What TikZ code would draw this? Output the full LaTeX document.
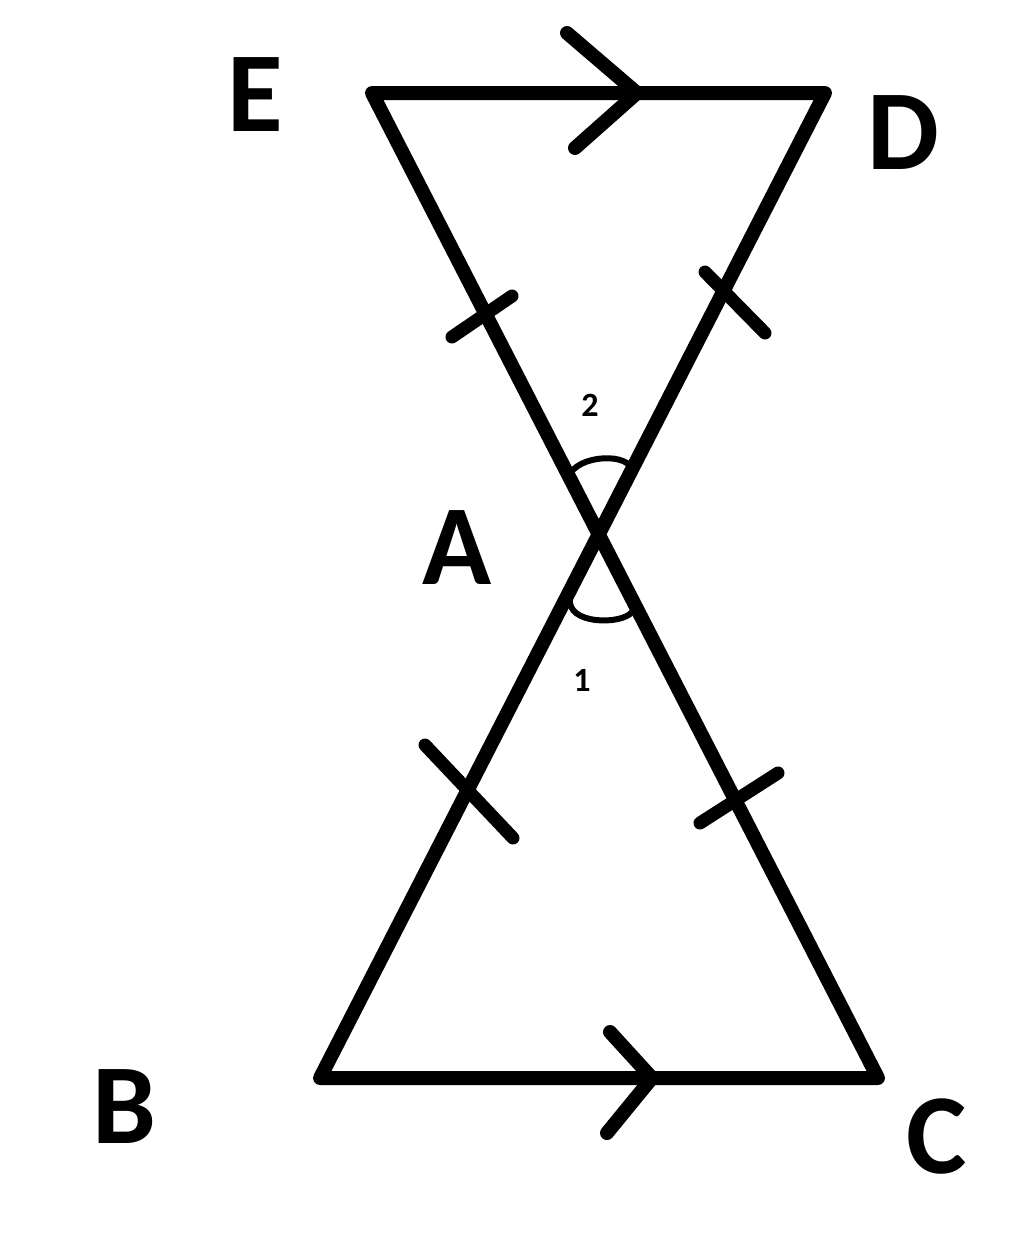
\documentclass[tikz,border=0pt]{standalone}
\usepackage{fontspec}
\setmainfont{Carlito}
\begin{document}
\begin{tikzpicture}[x=1pt,y=-1pt,
  seg/.style={line width=14pt,line cap=round,line join=round},
  tick/.style={line width=13pt,line cap=round},
  arc/.style={line width=6pt},
  vlabel/.style={inner sep=0pt,font=\fontsize{114}{114}\selectfont\bfseries},
  nlabel/.style={inner sep=0pt,font=\fontsize{34}{34}\selectfont\bfseries}]
\useasboundingbox (0,0) rectangle (1024,1239);
\coordinate (E) at (372,93);
\coordinate (D) at (825,93);
\coordinate (B) at (320,1078);
\coordinate (C) at (878,1078);
\coordinate (A) at (599,534);
% sides
\draw[seg] (B) -- (C) -- (E) -- (D) -- cycle;
% parallel chevrons
\draw[seg] (567,33) -- (637,93) -- (575,148);
\draw[seg] (610,1032) -- (652,1078) -- (607,1133);
% ticks
\draw[tick] (452,337) -- (512,296);
\draw[tick] (705,272) -- (765,333);
\draw[tick] (425,745) -- (513,838);
\draw[tick] (700,823) -- (778,773);
% angle arcs
\draw[arc] (567,482) .. controls (570,455) and (625,452) .. (631,468);
\draw[arc] (570,598) .. controls (566,625) and (622,625) .. (632,612);
% labels
\node[vlabel] (lE) at (255,95) {E};
\node[vlabel] (lD) at (903,133) {D};
\node[vlabel] (lA) at (457,548) {A};
\node[vlabel] (lB) at (124,1107) {B};
\node[vlabel] (lC) at (937,1136) {C};
\node[nlabel] (l2) at (590,405) {2};
\node[nlabel] (l1) at (582,680) {1};
\end{tikzpicture}
\end{document}
